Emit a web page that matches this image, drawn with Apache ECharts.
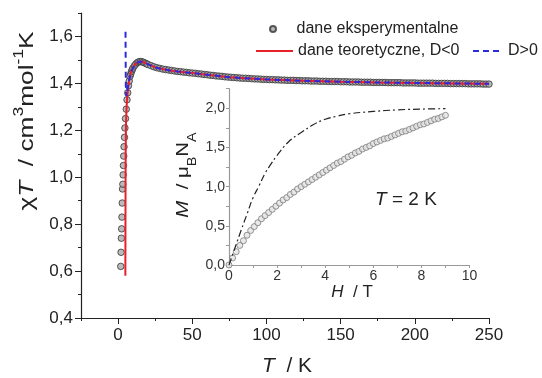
<!DOCTYPE html>
<html><head><meta charset="utf-8">
<script src="https://cdn.jsdelivr.net/npm/echarts@6/dist/echarts.min.js"></script>
<style>html,body{margin:0;padding:0;background:#fff}#c{width:542px;height:378px}</style>
</head><body><div id="c"></div>
<script>
const FONT = 'Arial, "Liberation Sans", sans-serif';

// ---- main panel: chi*T vs T ----
const xMajorTicks = [0, 50, 100, 150, 200, 250];
const xMinorTicks = [-25, 25, 75, 125, 175, 225];
const yMajorTicks = [0.4, 0.6, 0.8, 1.0, 1.2, 1.4, 1.6];
const yMinorTicks = [0.5, 0.7, 0.9, 1.1, 1.3, 1.5, 1.7];

const expT = [1.8,2.0,2.2,2.4,2.6,2.8,3.0,3.2,3.4,3.6,3.8,4.0,4.3,4.6,5.0,5.5,6.0,6.5,7.0,7.5,8,8.5,9,9.5,10,11,12,13,14,15,16,17,18,19,
  20,22,24,26,28,30,32,34,36,38,40,42,44,46,48,50,52,54,56,58,60,62,64,66,68,70,72,74,76,78,80,82,84,86,88,90,92,94,96,98,
  100,102,104,106,108,110,112,114,116,118,120,122,124,126,128,130,132,134,136,138,140,142,144,146,148,150,152,154,156,158,
  160,162,164,166,168,170,172,174,176,178,180,182,184,186,188,190,192,194,196,198,200,202,204,206,208,210,212,214,216,218,
  220,222,224,226,228,230,232,234,236,238,240,242,244,246,248,250];
const expChiT = [0.62,0.68,0.74,0.78,0.83,0.89,0.95,0.97,1.01,1.05,1.09,1.13,1.17,1.21,1.25,1.29,1.33,1.36,1.39,1.41,1.43,1.44,1.45,1.458,1.465,1.475,1.483,1.489,1.492,1.493,1.492,1.490,1.487,1.484,
  1.481,1.476,1.471,1.467,1.464,1.461,1.459,1.457,1.455,1.453,1.451,1.450,1.448,1.447,1.445,1.444,1.443,1.441,1.440,1.438,1.437,1.435,1.434,1.432,1.431,1.430,1.428,1.427,1.426,1.425,1.424,1.423,1.422,1.422,1.421,1.420,1.419,1.419,1.418,1.417,
  1.417,1.416,1.416,1.415,1.415,1.414,1.414,1.413,1.413,1.413,1.412,1.412,1.411,1.411,1.411,1.410,1.410,1.410,1.409,1.409,1.409,1.408,1.408,1.408,1.408,1.407,1.407,1.407,1.406,1.406,
  1.406,1.406,1.405,1.405,1.405,1.405,1.404,1.404,1.404,1.404,1.404,1.403,1.403,1.403,1.403,1.403,1.402,1.402,1.402,1.402,1.402,1.401,1.401,1.401,1.401,1.401,1.401,1.400,1.400,1.400,
  1.400,1.400,1.399,1.399,1.399,1.399,1.399,1.399,1.398,1.398,1.398,1.398,1.398,1.397,1.397,1.397];

const theoNegT    = [4.9, 5.0, 5.1, 5.3, 5.6, 6.0, 6.7, 7.5, 8.5, 10, 12, 14, 16, 18, 20, 25, 30, 35, 40, 50, 60, 75, 100, 125, 150, 175, 200, 225, 250];
const theoNegChiT = [0.58, 0.90, 1.10, 1.22, 1.28, 1.33, 1.38, 1.415, 1.445, 1.468, 1.485, 1.492, 1.492, 1.488, 1.482, 1.468, 1.461, 1.455, 1.451, 1.444, 1.437, 1.426, 1.417, 1.411, 1.407, 1.404, 1.402, 1.400, 1.398];
const theoPosT    = [5.0, 5.1, 5.2, 5.5, 6.0, 7.0, 8.0, 9.0, 10, 12, 14, 16, 18, 20, 25, 30, 35, 40, 50, 60, 75, 100, 125, 150, 175, 200, 225, 250];
const theoPosChiT = [1.62, 1.50, 1.40, 1.345, 1.36, 1.40, 1.43, 1.45, 1.465, 1.484, 1.492, 1.492, 1.488, 1.482, 1.468, 1.461, 1.455, 1.451, 1.444, 1.437, 1.426, 1.417, 1.411, 1.407, 1.404, 1.402, 1.400, 1.398];

// ---- inset: M vs H at 2 K ----
const insetXTicks = [0,1,2,3,4,5,6,7,8,9,10];
const insetXLabels = [0,2,4,6,8,10];
const insetYTicks = [0,0.25,0.5,0.75,1.0,1.25,1.5,1.75,2.0,2.25];
const insetYLabels = [0,0.5,1.0,1.5,2.0];
const expH = [0,0.15,0.3,0.45,0.6,0.75,0.9,1.05,1.2,1.35,1.5,1.65,1.8,1.95,2.1,2.25,2.4,2.55,2.7,2.85,3.0,3.15,3.3,3.45,3.6,3.75,3.9,4.05,4.2,4.35,
  4.5,4.65,4.8,4.95,5.1,5.25,5.4,5.55,5.7,5.85,6.0,6.15,6.3,6.45,6.6,6.75,6.9,7.05,7.2,7.35,7.5,7.65,7.8,7.95,8.1,8.25,8.4,8.55,8.7,8.85,9.0];
const expM = [0.00,0.09,0.17,0.25,0.31,0.38,0.44,0.49,0.54,0.59,0.63,0.67,0.71,0.75,0.79,0.83,0.86,0.90,0.93,0.97,1.00,1.03,1.06,1.09,1.12,1.15,1.18,1.21,1.24,1.27,
  1.30,1.32,1.35,1.38,1.40,1.43,1.45,1.48,1.50,1.52,1.55,1.57,1.59,1.61,1.62,1.64,1.66,1.68,1.70,1.71,1.73,1.75,1.77,1.79,1.80,1.82,1.84,1.86,1.87,1.89,1.91];
const brillH = [0, 0.25, 0.5, 0.75, 1.0, 1.25, 1.5, 1.75, 2.0, 2.5, 3.0, 3.5, 4.0, 4.5, 5.0, 6.0, 7.0, 8.0, 9.0];
const brillM = [0, 0.22, 0.44, 0.65, 0.86, 1.01, 1.17, 1.29, 1.40, 1.58, 1.69, 1.79, 1.86, 1.90, 1.93, 1.96, 1.98, 1.99, 1.995];

const zip = (a, b) => a.map((v, i) => [v, b[i]]);
const comma1 = v => v.toFixed(1).replace('.', ',');

const chart = echarts.init(document.getElementById('c'), null, {renderer: 'canvas'});

const mainAxisColor = '#222';
const insetAxisColor = '#9a9a9a';

const option = {
  backgroundColor: '#fff',
  animation: false,
  grid: [
    {left: 81, top: 13, width: 408, height: 305},
    {left: 229, top: 88.7, width: 240.5, height: 176.3}
  ],
  xAxis: [
    {gridIndex: 0, type: 'value', min: -25, max: 250, position: 'bottom',
     axisLine: {onZero: false, lineStyle: {color: mainAxisColor, width: 1.2}},
     axisTick: {customValues: xMinorTicks, length: 3, lineStyle: {color: mainAxisColor}},
     axisLabel: {show: false}, splitLine: {show: false}},
    {gridIndex: 0, type: 'value', min: -25, max: 250, position: 'bottom',
     axisLine: {onZero: false, show: false},
     axisTick: {customValues: xMajorTicks, length: 6, lineStyle: {color: mainAxisColor}},
     axisLabel: {customValues: xMajorTicks, fontSize: 17, fontFamily: FONT, color: '#222', margin: 9},
     splitLine: {show: false}},
    {gridIndex: 1, type: 'value', min: 0, max: 10, position: 'bottom',
     axisLine: {onZero: false, lineStyle: {color: insetAxisColor, width: 1.2}},
     axisTick: {customValues: insetXTicks, length: 3, lineStyle: {color: insetAxisColor}},
     axisLabel: {customValues: insetXLabels, fontSize: 14, fontFamily: FONT, color: '#333', margin: 4},
     splitLine: {show: false}}
  ],
  yAxis: [
    {gridIndex: 0, type: 'value', min: 0.4, max: 1.7, position: 'left',
     axisLine: {show: true, onZero: false, lineStyle: {color: mainAxisColor, width: 1.2}},
     axisTick: {show: true, customValues: yMinorTicks, length: 3, lineStyle: {color: mainAxisColor}},
     axisLabel: {show: false}, splitLine: {show: false}},
    {gridIndex: 0, type: 'value', min: 0.4, max: 1.7, position: 'left',
     axisLine: {show: false, onZero: false},
     axisTick: {show: true, customValues: yMajorTicks, length: 6, lineStyle: {color: mainAxisColor}},
     axisLabel: {customValues: yMajorTicks, formatter: comma1, fontSize: 17, fontFamily: FONT, color: '#222', margin: 8},
     splitLine: {show: false}},
    {gridIndex: 1, type: 'value', min: 0, max: 2.25, position: 'left',
     axisLine: {show: true, onZero: false, lineStyle: {color: insetAxisColor, width: 1.2}},
     axisTick: {show: true, customValues: insetYTicks, length: 3, lineStyle: {color: insetAxisColor}},
     axisLabel: {customValues: insetYLabels, formatter: comma1, fontSize: 14, fontFamily: FONT, color: '#333', margin: 4},
     splitLine: {show: false}}
  ],
  legend: [
    {left: 269, top: 21, padding: 0, itemWidth: 37, itemHeight: 6,
     data: [{name: 'dane eksperymentalne', icon: 'circle'}],
     textStyle: {fontSize: 16, fontFamily: FONT, color: '#222'}},
    {left: 255, top: 43, padding: 0, itemWidth: 37, itemHeight: 4,
     itemStyle: {opacity: 0},
     data: ['dane teoretyczne, D<0'],
     textStyle: {fontSize: 16, fontFamily: FONT, color: '#222'}},
    {left: 472, top: 43, padding: 0, itemWidth: 30, itemHeight: 4,
     itemStyle: {opacity: 0},
     data: ['D>0'],
     textStyle: {fontSize: 16, fontFamily: FONT, color: '#222'}}
  ],
  series: [
    {name: 'dane eksperymentalne', type: 'scatter', xAxisIndex: 0, yAxisIndex: 0,
     data: zip(expT, expChiT), symbol: 'circle', symbolSize: 6.5,
     itemStyle: {color: '#aaaaaa', borderColor: '#333', borderWidth: 1}, z: 2},
    {name: 'dane teoretyczne, D<0', type: 'line', xAxisIndex: 0, yAxisIndex: 0,
     data: zip(theoNegT, theoNegChiT), symbol: 'none', smooth: false,
     lineStyle: {color: '#e8202a', width: 2}, itemStyle: {color: '#e8202a'}, z: 3},
    {name: 'D>0', type: 'line', xAxisIndex: 0, yAxisIndex: 0,
     data: zip(theoPosT, theoPosChiT), symbol: 'none', smooth: false,
     lineStyle: {color: '#2b2bdc', width: 2, type: [6, 4]}, itemStyle: {color: '#2b2bdc'}, z: 4},
    {name: 'M(H)', type: 'scatter', xAxisIndex: 2, yAxisIndex: 2,
     data: zip(expH, expM), symbol: 'circle', symbolSize: 6,
     itemStyle: {color: '#e4e4e4', borderColor: '#7a7a7a', borderWidth: 1}, z: 2},
    {name: 'Brillouin', type: 'line', xAxisIndex: 2, yAxisIndex: 2,
     data: zip(brillH, brillM), symbol: 'none', smooth: 0.4,
     lineStyle: {color: '#222', width: 1.2, type: [7, 3, 2, 3]}, z: 3}
  ],
  graphic: [
    {type: 'text', x: 287, y: 366, style: {
      text: '{i|T}  / K', fill: '#222', fontSize: 21, fontFamily: FONT,
      align: 'center', verticalAlign: 'middle', textAlign: 'center', textVerticalAlign: 'middle',
      rich: {i: {fontStyle: 'italic', fontSize: 21, fontFamily: FONT, fill: '#222'}}}},
    {type: 'text', x: 25, y: 121, rotation: Math.PI / 2, scaleX: 1.25, style: {
      text: '{n|χ}{i|T}{n|  / cm}{s|3}{n|mol}{s|-1}{n|K}', fill: '#222', fontSize: 21, fontFamily: FONT,
      align: 'center', verticalAlign: 'middle', textAlign: 'center', textVerticalAlign: 'middle',
      rich: {
        n: {fontSize: 21, fontFamily: FONT, fill: '#222', lineHeight: 26, verticalAlign: 'bottom'},
        i: {fontSize: 21, fontFamily: FONT, fontStyle: 'italic', fill: '#222', lineHeight: 26, verticalAlign: 'bottom'},
        s: {fontSize: 14, fontFamily: FONT, fill: '#222', lineHeight: 14, verticalAlign: 'top'}
      }}},
    {type: 'text', x: 352, y: 292, style: {
      text: '{i|H}  / T', fill: '#222', fontSize: 17, fontFamily: FONT,
      align: 'center', verticalAlign: 'middle', textAlign: 'center', textVerticalAlign: 'middle',
      rich: {i: {fontStyle: 'italic', fontSize: 17, fontFamily: FONT, fill: '#222'}}}},
    {type: 'text', x: 187, y: 175, rotation: Math.PI / 2, scaleX: 1.2, style: {
      text: '{i|M}{n|  / μ}{b|B}{n|N}{b|A}', fill: '#222', fontSize: 17, fontFamily: FONT,
      align: 'center', verticalAlign: 'middle', textAlign: 'center', textVerticalAlign: 'middle',
      rich: {
        n: {fontSize: 17, fontFamily: FONT, fill: '#222', lineHeight: 24, verticalAlign: 'top'},
        i: {fontSize: 17, fontFamily: FONT, fontStyle: 'italic', fill: '#222', lineHeight: 24, verticalAlign: 'top'},
        b: {fontSize: 12, fontFamily: FONT, fill: '#222', lineHeight: 12, verticalAlign: 'bottom'}
      }}},
    {type: 'text', x: 406, y: 200, style: {
      text: '{i|T} = 2 K', fill: '#222', fontSize: 19, fontFamily: FONT,
      align: 'center', verticalAlign: 'middle', textAlign: 'center', textVerticalAlign: 'middle',
      rich: {i: {fontStyle: 'italic', fontSize: 19, fontFamily: FONT, fill: '#222'}}}}
  ]
};
chart.setOption(option);
</script>
</body></html>
